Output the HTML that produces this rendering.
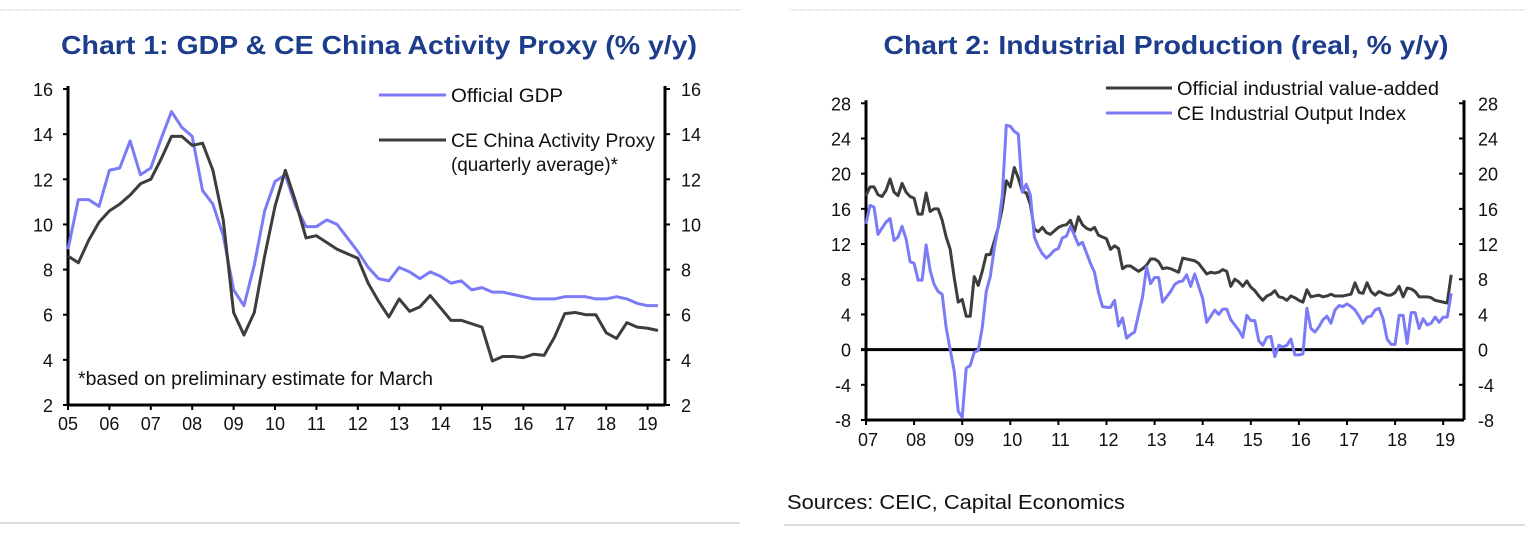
<!DOCTYPE html>
<html><head><meta charset="utf-8"><style>
body{margin:0;background:#fff;width:1525px;height:533px;overflow:hidden}
svg{display:block;font-family:"Liberation Sans",sans-serif}
</style></head><body>
<svg id="s" width="1525" height="533" viewBox="0 0 1525 533">
<line x1="0" y1="10" x2="742" y2="10" stroke="#bbb" stroke-width="1" stroke-dasharray="1,1"/>
<line x1="790" y1="10" x2="1525" y2="10" stroke="#bbb" stroke-width="1" stroke-dasharray="1,1"/>
<line x1="0" y1="523" x2="740" y2="523" stroke="#bbb" stroke-width="1"/>
<line x1="784" y1="525" x2="1525" y2="525" stroke="#bbb" stroke-width="1"/>
<text x="379" y="54" text-anchor="middle" font-size="26" font-weight="bold" fill="#1c3c8c" textLength="636" lengthAdjust="spacingAndGlyphs">Chart 1: GDP &amp; CE China Activity Proxy (% y/y)</text>
<text x="1166" y="54" text-anchor="middle" font-size="26" font-weight="bold" fill="#1c3c8c" textLength="565" lengthAdjust="spacingAndGlyphs">Chart 2: Industrial Production (real, % y/y)</text>
<text x="787" y="509" font-size="20" fill="#111" textLength="338" lengthAdjust="spacingAndGlyphs">Sources: CEIC, Capital Economics</text>
<g id="c1"></g>
<g id="c2"></g>
</svg>
<script>
// Chart 1 data (quarterly, 2005Q1 onward)
const c1YearLabels = ["05","06","07","08","09","10","11","12","13","14","15","16","17","18","19"];
const c1YTicks = [2,4,6,8,10,12,14,16];
const gdpValues = [8.9,11.1,11.1,10.8,12.4,12.5,13.7,12.2,12.5,13.8,15.0,14.3,13.9,11.5,10.9,9.5,7.1,6.4,8.2,10.6,11.9,12.2,10.8,9.9,9.9,10.2,10.0,9.4,8.8,8.1,7.6,7.5,8.1,7.9,7.6,7.9,7.7,7.4,7.5,7.1,7.2,7.0,7.0,6.9,6.8,6.7,6.7,6.7,6.8,6.8,6.8,6.7,6.7,6.8,6.7,6.5,6.4,6.4];
const proxyValues = [8.6,8.3,9.3,10.1,10.6,10.9,11.3,11.8,12.0,12.9,13.9,13.9,13.5,13.6,12.4,10.2,6.1,5.1,6.1,8.6,10.8,12.4,11.0,9.4,9.5,9.2,8.9,8.7,8.5,7.4,6.6,5.9,6.7,6.15,6.35,6.85,6.3,5.75,5.75,5.6,5.45,3.95,4.15,4.15,4.1,4.25,4.2,5.0,6.05,6.1,6.0,6.0,5.2,4.95,5.65,5.45,5.4,5.3];
// Chart 2 data (monthly, Jan 2007 onward)
const c2YearLabels = ["07","08","09","10","11","12","13","14","15","16","17","18","19"];
const c2YTicks = [-8,-4,0,4,8,12,16,20,24,28];
const ivaValues = [17.5,18.5,18.5,17.6,17.4,18.1,19.4,17.9,17.5,18.9,17.9,17.4,17.2,15.4,15.4,17.8,15.7,16.0,16.0,14.7,12.8,11.4,8.2,5.4,5.7,3.8,3.8,8.3,7.3,8.9,10.8,10.8,12.3,13.9,16.1,19.2,18.5,20.7,19.5,18.0,17.8,16.5,13.7,13.4,13.9,13.3,13.1,13.5,13.9,14.1,14.2,14.7,13.4,15.1,14.2,13.8,13.6,13.9,13.0,12.8,12.6,11.4,11.8,11.5,9.2,9.5,9.5,9.2,8.9,9.2,9.6,10.3,10.3,10.0,9.2,9.3,9.2,9.0,8.8,10.4,10.3,10.2,10.1,9.8,9.2,8.6,8.8,8.7,8.8,9.1,8.9,7.2,8.0,7.7,7.2,7.8,7.1,6.7,6.1,5.6,6.1,6.3,6.7,6.0,5.9,5.6,6.1,5.9,5.6,5.4,6.8,6.0,6.1,6.2,6.0,6.1,6.3,6.1,6.1,6.1,6.2,6.3,7.6,6.5,6.4,7.6,6.6,6.2,6.6,6.4,6.2,6.2,6.5,7.2,6.0,7.0,6.9,6.6,6.0,6.0,6.0,5.9,5.6,5.5,5.4,5.3,8.5];
const ceioValues = [14.3,16.4,16.2,13.1,13.8,14.5,14.9,12.4,12.8,14.0,12.6,10.0,9.8,7.9,7.9,11.9,9.0,7.4,6.6,6.3,2.5,0.0,-2.4,-7.0,-7.7,-2.1,-1.8,-0.3,-0.1,2.5,6.6,8.3,11.5,14.0,17.5,25.5,25.4,24.8,24.5,17.9,18.8,17.6,12.8,11.7,10.9,10.4,10.8,11.3,11.5,12.7,12.9,14.0,13.0,11.9,12.2,11.0,9.8,8.8,6.5,4.9,4.8,4.8,5.6,2.7,3.6,1.3,1.7,2.0,4.0,6.0,9.4,7.5,8.2,8.2,5.4,6.0,6.6,7.4,7.7,7.8,8.5,7.2,8.6,7.2,5.8,3.1,3.8,4.5,4.0,4.6,4.6,3.4,2.8,2.2,1.4,3.9,3.3,3.3,1.0,0.5,1.4,1.5,-0.8,0.5,0.3,0.5,1.2,-0.6,-0.6,-0.5,4.7,2.4,2.0,2.6,3.4,3.8,3.0,4.5,5.0,4.9,5.2,4.9,4.5,3.8,3.0,3.7,3.8,4.5,4.7,3.5,1.2,0.6,0.6,3.9,3.9,0.7,4.2,4.2,2.4,3.5,2.8,3.0,3.7,3.1,3.7,3.7,6.4];

const NS="http://www.w3.org/2000/svg";
function mk(parent,tag,attrs,text){const e=document.createElementNS(NS,tag);for(const k in attrs)e.setAttribute(k,attrs[k]);if(text!==undefined)e.textContent=text;parent.appendChild(e);return e;}
const BLUE="#7b7bf7", DARK="#3d3d3d";

// ---------- Chart 1 ----------
(function(){
  const g=document.getElementById('c1');
  const L=68,R=665,T=89,B=405,ymin=2,ymax=16;
  const yS=v=>B-(v-ymin)/(ymax-ymin)*(B-T);
  const yearW=41.4;
  const xQ=i=>L+i*yearW/4;
  let e;
  c1YTicks.forEach(v=>{
    const y=yS(v);
    e=mk(g,'line',{x1:L-5,y1:y,x2:L,y2:y,stroke:'#000','stroke-width':2});
     
    e=mk(g,'line',{x1:R,y1:y,x2:R+5,y2:y,stroke:'#000','stroke-width':2});
     
    e=mk(g,'text',{x:L-15,y:y+7,'text-anchor':'end','font-size':18,fill:'#111'},String(v));
     
    e=mk(g,'text',{x:R+16,y:y+7,'text-anchor':'start','font-size':18,fill:'#111'},String(v));
     
  });
  c1YearLabels.forEach((lab,k)=>{
    const x=L+k*yearW;
    e=mk(g,'line',{x1:x,y1:B,x2:x,y2:B+5,stroke:'#000','stroke-width':2});
     
    e=mk(g,'text',{x:x,y:B+25,'text-anchor':'middle','font-size':18,fill:'#111'},lab);
     
  });
  e=mk(g,'line',{x1:L,y1:T-3,x2:L,y2:B,stroke:'#000','stroke-width':3});
   
  e=mk(g,'line',{x1:R,y1:T-3,x2:R,y2:B,stroke:'#000','stroke-width':3});
   
  e=mk(g,'line',{x1:L,y1:B,x2:R,y2:B,stroke:'#000','stroke-width':3});
   
  e=mk(g,'polyline',{points:gdpValues.map((v,i)=>xQ(i)+','+yS(v)).join(' '),fill:'none',stroke:BLUE,'stroke-width':3,'stroke-linejoin':'round'});
   
  e=mk(g,'polyline',{points:proxyValues.map((v,i)=>xQ(i)+','+yS(v)).join(' '),fill:'none',stroke:DARK,'stroke-width':3,'stroke-linejoin':'round'});
   
  e=mk(g,'line',{x1:379,y1:95,x2:446,y2:95,stroke:BLUE,'stroke-width':3});
   
  e=mk(g,'text',{x:451,y:102,'font-size':19,fill:'#111',textLength:112,lengthAdjust:'spacingAndGlyphs'},'Official GDP');
   
  e=mk(g,'line',{x1:379,y1:140,x2:446,y2:140,stroke:DARK,'stroke-width':3});
   
  e=mk(g,'text',{x:451,y:147,'font-size':19,fill:'#111',textLength:204,lengthAdjust:'spacingAndGlyphs'},'CE China Activity Proxy');
   
  e=mk(g,'text',{x:451,y:171,'font-size':19,fill:'#111',textLength:167,lengthAdjust:'spacingAndGlyphs'},'(quarterly average)*');
   
  e=mk(g,'text',{x:78,y:385,'font-size':19,fill:'#111',textLength:355,lengthAdjust:'spacingAndGlyphs'},'*based on preliminary estimate for March');
   
})();

// ---------- Chart 2 ----------
(function(){
  const g=document.getElementById('c2');
  const L=866,R=1464,ymin=-8,ymax=28,T=103.3,B=420;
  const yS=v=>B-(v-ymin)/(ymax-ymin)*(B-T);
  const yearW=48.1;
  const xM=i=>L+i*yearW/12;
  let e;
  c2YTicks.forEach(v=>{
    const y=yS(v);
    e=mk(g,'line',{x1:L-5,y1:y,x2:L,y2:y,stroke:'#000','stroke-width':2});
     
    e=mk(g,'line',{x1:R-5,y1:y,x2:R,y2:y,stroke:'#000','stroke-width':2});
     
    e=mk(g,'text',{x:L-15,y:y+7,'text-anchor':'end','font-size':18,fill:'#111'},String(v));
     
    e=mk(g,'text',{x:R+14,y:y+7,'text-anchor':'start','font-size':18,fill:'#111'},String(v));
     
  });
  c2YearLabels.forEach((lab,k)=>{
    const x=L+k*yearW;
    e=mk(g,'line',{x1:x,y1:B,x2:x,y2:B+5,stroke:'#000','stroke-width':2});
     
    e=mk(g,'text',{x:x+2,y:B+26,'text-anchor':'middle','font-size':18,fill:'#111'},lab);
     
  });
  e=mk(g,'line',{x1:L,y1:T-3,x2:L,y2:B,stroke:'#000','stroke-width':3});
   
  e=mk(g,'line',{x1:R,y1:T-3,x2:R,y2:B,stroke:'#000','stroke-width':3});
   
  e=mk(g,'line',{x1:L,y1:B,x2:R,y2:B,stroke:'#000','stroke-width':3});
   
  e=mk(g,'line',{x1:L-5,y1:yS(0),x2:R,y2:yS(0),stroke:'#000','stroke-width':3});
   
  e=mk(g,'polyline',{points:ivaValues.map((v,i)=>xM(i)+','+yS(v)).join(' '),fill:'none',stroke:DARK,'stroke-width':3,'stroke-linejoin':'round'});
   
  e=mk(g,'polyline',{points:ceioValues.map((v,i)=>xM(i)+','+yS(v)).join(' '),fill:'none',stroke:BLUE,'stroke-width':3,'stroke-linejoin':'round'});
   
  e=mk(g,'line',{x1:1106,y1:88,x2:1172,y2:88,stroke:DARK,'stroke-width':3});
   
  e=mk(g,'text',{x:1177,y:95,'font-size':19,fill:'#111',textLength:262,lengthAdjust:'spacingAndGlyphs'},'Official industrial value-added');
   
  e=mk(g,'line',{x1:1106,y1:113,x2:1172,y2:113,stroke:BLUE,'stroke-width':3});
   
  e=mk(g,'text',{x:1177,y:120,'font-size':19,fill:'#111',textLength:229,lengthAdjust:'spacingAndGlyphs'},'CE Industrial Output Index');
   
})();
</script>
</body></html>
